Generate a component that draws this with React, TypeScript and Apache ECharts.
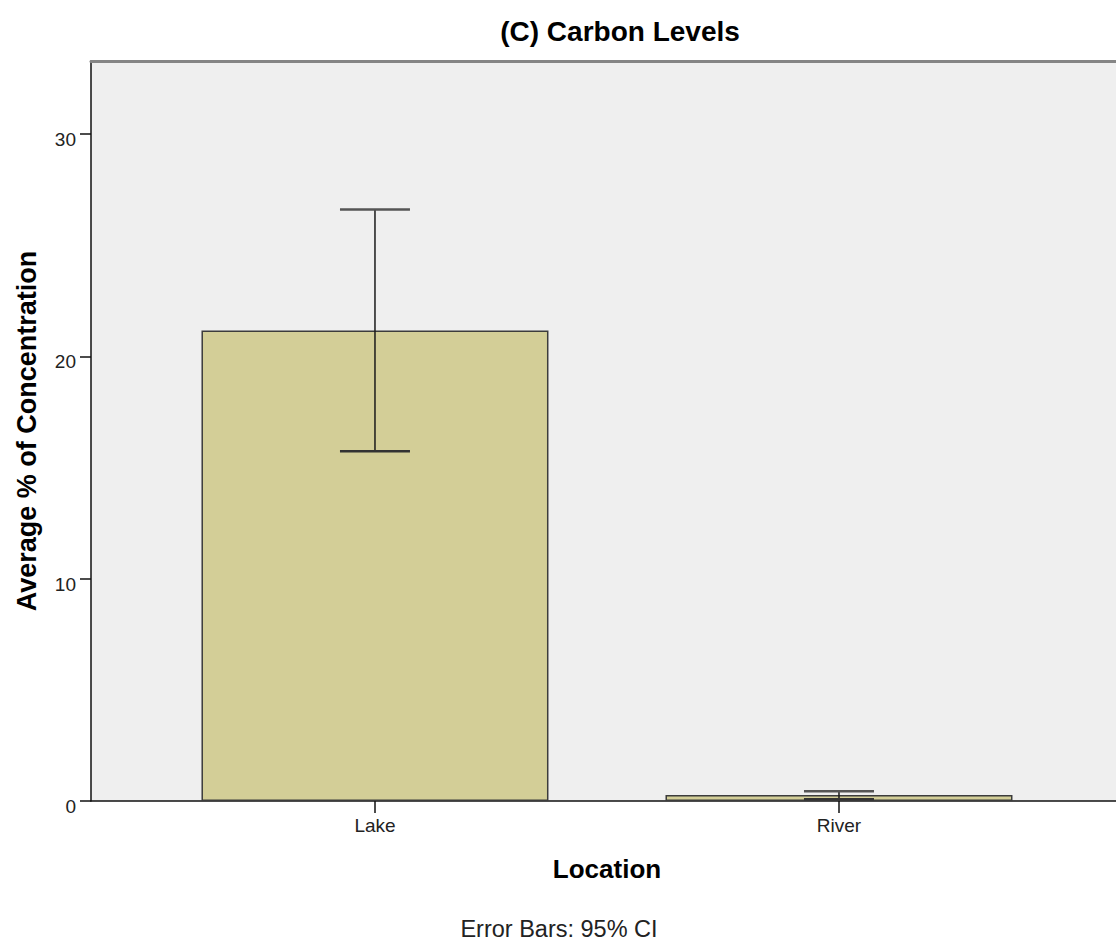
import React, { useEffect, useRef } from "react";
import * as echarts from "echarts";

const categories = ["Lake", "River"];
const means = [21.16, 0.27];
const ciLow = [15.73, 0.08];
const ciHigh = [26.6, 0.44];
const yTicks = [0, 10, 20, 30];

export default function App() {
  const ref = useRef<HTMLDivElement>(null);
  useEffect(() => {
    document.body.style.margin = "0";
    const chart = echarts.init(ref.current!, null, { renderer: "svg" });
    const font = "Liberation Sans, Arial, sans-serif";
    chart.setOption({
      animation: false,
      backgroundColor: "#ffffff",
      graphic: [
        {
          type: "text",
          x: 620,
          y: 31,
          style: {
            text: "(C) Carbon Levels",
            textAlign: "center",
            textVerticalAlign: "middle",
            fontFamily: font,
            fontSize: 28,
            fontWeight: "bold",
            fill: "#000",
          },
        },
        {
          type: "text",
          x: 607,
          y: 869,
          style: {
            text: "Location",
            textAlign: "center",
            textVerticalAlign: "middle",
            fontFamily: font,
            fontSize: 26,
            fontWeight: "bold",
            fill: "#000",
          },
        },
        {
          type: "text",
          x: 559,
          y: 929,
          style: {
            text: "Error Bars: 95% CI",
            textAlign: "center",
            textVerticalAlign: "middle",
            fontFamily: font,
            fontSize: 23.5,
            fill: "#222",
          },
        },
      ],
      grid: {
        left: 91,
        top: 61,
        right: 0,
        bottom: 140,
        show: true,
        backgroundColor: "#efefef",
        borderWidth: 0,
      },
      xAxis: [
        {
          type: "value",
          min: -0.612,
          max: 1.597,
          splitLine: { show: false },
          axisLine: { show: true, onZero: false, lineStyle: { color: "#111", width: 1.5 } },
          axisTick: {
            show: true,
            customValues: [0, 1],
            length: 12,
            lineStyle: { color: "#111", width: 1.5 },
          },
          axisLabel: {
            customValues: [0, 1],
            formatter: (v: number) => categories[Math.round(v)] ?? "",
            fontFamily: font,
            fontSize: 19,
            color: "#222",
            margin: 15,
          },
        },
        {
          type: "value",
          position: "top",
          min: -0.612,
          max: 1.597,
          splitLine: { show: false },
          axisLine: { show: true, onZero: false, lineStyle: { color: "#858585", width: 3 } },
          axisTick: { show: false },
          axisLabel: { show: false },
        },
      ],
      yAxis: {
        type: "value",
        min: 0,
        max: 33.28,
        interval: 10,
        name: "Average % of Concentration",
        nameLocation: "middle",
        nameGap: 51,
        nameTextStyle: { fontFamily: font, fontSize: 27, fontWeight: "bold", color: "#000" },
        splitLine: { show: false },
        axisLine: { show: true, onZero: false, lineStyle: { color: "#111", width: 1.5 } },
        axisTick: {
          show: true,
          customValues: yTicks,
          length: 11,
          lineStyle: { color: "#111", width: 1.5 },
        },
        axisLabel: {
          customValues: yTicks,
          fontFamily: font,
          fontSize: 19,
          color: "#222",
          margin: 15,
          verticalAlign: "top",
          lineHeight: 11,
          formatter: (v: number) => String(v),
        },
      },
      series: [
        {
          type: "bar",
          data: means.map((m, i) => [i, m]),
          barWidth: 347,
          itemStyle: { color: "#d3ce97", borderColor: "#3c3c3c", borderWidth: 1.5 },
        },
        {
          type: "custom",
          data: categories.map((_, i) => [i, ciLow[i], ciHigh[i]]),
          renderItem: (params: any, api: any) => {
            const x = api.value(0);
            const lo = api.coord([x, api.value(1)]);
            const hi = api.coord([x, api.value(2)]);
            const hw = 35;
            const style = { stroke: "#1a1a1a", lineWidth: 1.5 };
            return {
              type: "group",
              children: [
                { type: "line", shape: { x1: hi[0], y1: hi[1], x2: lo[0], y2: lo[1] }, style },
                { type: "line", shape: { x1: hi[0] - hw, y1: hi[1], x2: hi[0] + hw, y2: hi[1] }, style: { stroke: "#555", lineWidth: 2.5 } },
                { type: "line", shape: { x1: lo[0] - hw, y1: lo[1], x2: lo[0] + hw, y2: lo[1] }, style: { stroke: "#333", lineWidth: 2.5 } },
              ],
            };
          },
          z: 5,
        },
      ],
    });
    return () => chart.dispose();
  }, []);
  return <div ref={ref} style={{ width: 1116, height: 941 }} />;
}
